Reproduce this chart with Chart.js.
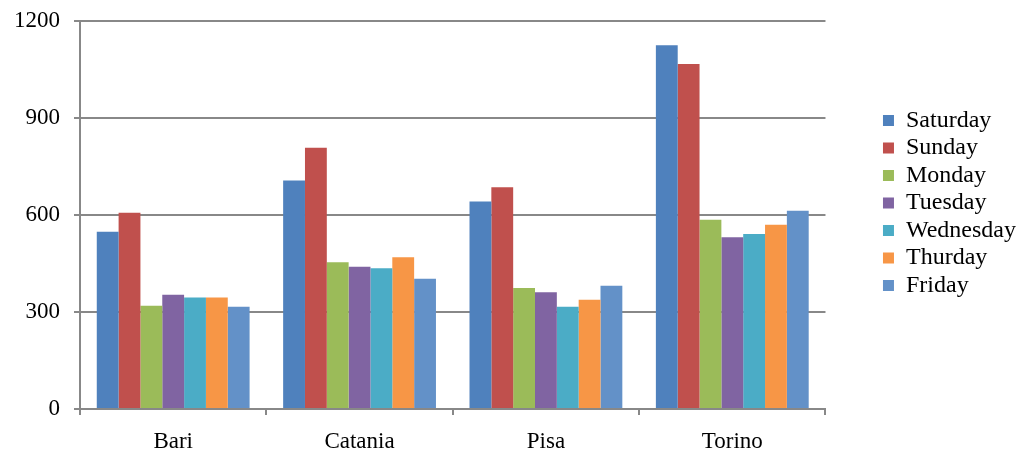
<!DOCTYPE html>
<html>
<head>
<meta charset="utf-8">
<script src="https://cdn.jsdelivr.net/npm/chart.js@4/dist/chart.umd.min.js"></script>
<style>
  html, body { margin: 0; padding: 0; background: #ffffff; }
  #wrap { width: 1023px; height: 451px; position: relative; }
</style>
</head>
<body>
<div id="wrap"><canvas id="c"></canvas></div>
<script>
const categories = ["Bari", "Catania", "Pisa", "Torino"];
const yTicks = [0, 300, 600, 900, 1200];
const saturday  = [548, 707, 642, 1125];
const sunday    = [607, 808, 686, 1067];
const monday    = [319, 454, 374, 585];
const tuesday   = [353, 440, 361, 531];
const wednesday = [345, 435, 316, 541];
const thurday   = [345, 469, 338, 570];
const friday    = [316, 403, 381, 613];

const seriesNames = ["Saturday", "Sunday", "Monday", "Tuesday", "Wednesday", "Thurday", "Friday"];
const seriesData = [saturday, sunday, monday, tuesday, wednesday, thurday, friday];
const colors = ["#4F81BD", "#C0504D", "#9BBB59", "#8064A2", "#4BACC6", "#F79646", "#6391C8"];

const font = "'Liberation Serif', 'Times New Roman', serif";

const legendShift = {
  id: 'legendShift',
  afterLayout(chart) {
    const lg = chart.legend;
    if (lg) { lg.top -= 33; lg.bottom -= 33; lg.left += 3; lg.right += 3; }
  }
};

const noVPad = (axis) => { axis.paddingTop = 0; axis.paddingBottom = 0; };

new Chart(document.getElementById('c'), {
  type: 'bar',
  data: {
    labels: categories,
    datasets: seriesNames.map((n, i) => ({
      label: n,
      data: seriesData[i],
      backgroundColor: colors[i],
      borderWidth: 0,
      barPercentage: 1.0,
      categoryPercentage: 0.82
    }))
  },
  plugins: [legendShift],
  options: {
    responsive: true,
    maintainAspectRatio: false,
    animation: false,
    layout: { padding: { top: 21, right: 0, left: 0, bottom: 0 } },
    plugins: {
      tooltip: { enabled: false },
      legend: {
        position: 'right',
        align: 'center',
        labels: {
          font: { family: font, size: 24 },
          color: '#000000',
          boxWidth: 11,
          boxHeight: 11,
          padding: 3.5
        }
      }
    },
    scales: {
      x: {
        grid: {
          offset: true,
          drawOnChartArea: false,
          drawTicks: true,
          tickLength: 6,
          color: '#888888',
          lineWidth: 2
        },
        border: { color: '#888888', width: 2 },
        ticks: {
          font: { family: font, size: 23, lineHeight: 1.0 },
          color: '#000000',
          padding: 15
        },
        afterFit: (axis) => { axis.height = 42; }
      },
      y: {
        min: 0,
        max: 1200,
        afterBuildTicks: (axis) => { axis.ticks = yTicks.map(v => ({ value: v })); },
        grid: {
          color: '#888888',
          lineWidth: 2,
          tickLength: 6,
          drawTicks: true
        },
        border: { color: '#888888', width: 2 },
        ticks: {
          font: { family: font, size: 23, lineHeight: 1.0 },
          color: '#000000',
          padding: 14,
          callback: (v) => String(v)
        },
        afterFit: (axis) => { axis.width = 80; noVPad(axis); }
      },
      yGap: {
        position: 'right',
        display: true,
        grid: { display: false, drawTicks: false },
        border: { display: false },
        ticks: { display: false },
        afterFit: (axis) => { axis.width = 51; noVPad(axis); }
      }
    }
  }
});
</script>
</body>
</html>
